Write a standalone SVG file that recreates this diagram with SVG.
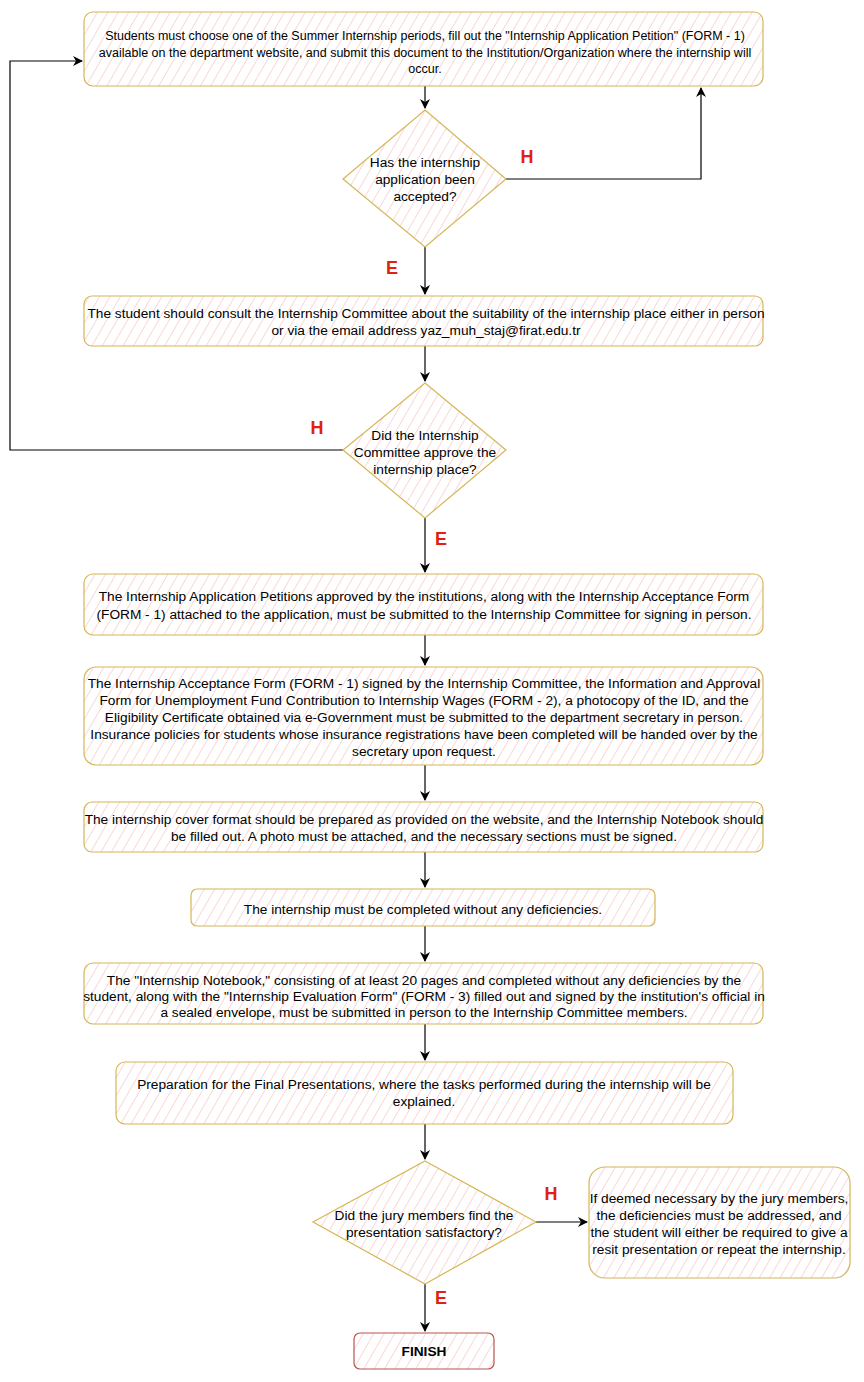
<svg xmlns="http://www.w3.org/2000/svg" width="864" height="1382" viewBox="0 0 864 1382">
<style>
.box{fill:url(#hatch);stroke:#d6b656;stroke-width:1.2}
.fin{fill:url(#hatch);stroke:#b85450;stroke-width:1.2}
.t{font-family:"Liberation Sans",Arial,sans-serif;font-size:13.7px;fill:#000;text-anchor:middle}
.t12{font-size:12.5px}
.b{font-weight:bold}
.lbl{font-family:"Liberation Sans",Arial,sans-serif;font-size:18px;font-weight:bold;fill:#e0210f;text-anchor:middle}
.c{fill:none;stroke:#000;stroke-width:1.2}
</style>
<defs>
<pattern id="hatch" patternUnits="userSpaceOnUse" width="9" height="9" patternTransform="rotate(30)">
<rect width="9" height="9" fill="#ffffff"/>
<line x1="0" y1="0" x2="0" y2="9" stroke="#f2a9a7" stroke-width="0.9"/>
</pattern>
<marker id="arr" viewBox="0 0 10 10" refX="9" refY="5" markerWidth="10" markerHeight="10" markerUnits="userSpaceOnUse" orient="auto">
<path d="M0,0 L10,5 L0,10 L3,5 Z" fill="#000"/>
</marker>
</defs>
<rect width="864" height="1382" fill="#ffffff"/>

<g id="connectors">
<path class="c" d="M425,86 V108" marker-end="url(#arr)"/>
<path class="c" d="M506,179 H701 V88" marker-end="url(#arr)"/>
<path class="c" d="M425,247 V294" marker-end="url(#arr)"/>
<path class="c" d="M425,346 V381" marker-end="url(#arr)"/>
<path class="c" d="M343,450 H10 V61 H82" marker-end="url(#arr)"/>
<path class="c" d="M425,518 V572" marker-end="url(#arr)"/>
<path class="c" d="M425,635 V665" marker-end="url(#arr)"/>
<path class="c" d="M425,765 V800" marker-end="url(#arr)"/>
<path class="c" d="M425,852 V887" marker-end="url(#arr)"/>
<path class="c" d="M425,926 V961" marker-end="url(#arr)"/>
<path class="c" d="M425,1024 V1060" marker-end="url(#arr)"/>
<path class="c" d="M425,1124 V1159" marker-end="url(#arr)"/>
<path class="c" d="M536,1222 H587" marker-end="url(#arr)"/>
<path class="c" d="M425,1284 V1331" marker-end="url(#arr)"/>
<text class="lbl" x="527" y="163">H</text>
<text class="lbl" x="392" y="274">E</text>
<text class="lbl" x="317" y="434">H</text>
<text class="lbl" x="441" y="545">E</text>
<text class="lbl" x="551" y="1200">H</text>
<text class="lbl" x="441" y="1304">E</text>
</g>

<g id="n1">
<rect class="box" x="84" y="12" width="679" height="74" rx="9"/>
<text class="t t12" x="425" y="40">Students must choose one of the Summer Internship periods, fill out the "Internship Application Petition" (FORM - 1)</text>
<text class="t t12" x="425" y="57">available on the department website, and submit this document to the Institution/Organization where the internship will</text>
<text class="t t12" x="425" y="73">occur.</text>
</g>

<g id="d1">
<polygon class="box" points="425,110 506,179 425,247 343,179"/>
<text class="t" x="425" y="167">Has the internship</text>
<text class="t" x="425" y="184">application been</text>
<text class="t" x="425" y="201">accepted?</text>
</g>

<g id="n2">
<rect class="box" x="84" y="296" width="679" height="50" rx="8"/>
<text class="t" x="426" y="318">The student should consult the Internship Committee about the suitability of the internship place either in person</text>
<text class="t" x="426" y="335">or via the email address yaz_muh_staj@firat.edu.tr</text>
</g>

<g id="d2">
<polygon class="box" points="425,383 506,450 425,518 343,450"/>
<text class="t" x="425" y="440">Did the Internship</text>
<text class="t" x="425" y="457">Committee approve the</text>
<text class="t" x="425" y="474">internship place?</text>
</g>

<g id="n3">
<rect class="box" x="84" y="574" width="679" height="61" rx="9"/>
<text class="t" x="424" y="601">The Internship Application Petitions approved by the institutions, along with the Internship Acceptance Form</text>
<text class="t" x="424" y="619">(FORM - 1) attached to the application, must be submitted to the Internship Committee for signing in person.</text>
</g>

<g id="n4">
<rect class="box" x="84" y="667" width="679" height="98" rx="12"/>
<text class="t" x="424" y="688">The Internship Acceptance Form (FORM - 1) signed by the Internship Committee, the Information and Approval</text>
<text class="t" x="424" y="705">Form for Unemployment Fund Contribution to Internship Wages (FORM - 2), a photocopy of the ID, and the</text>
<text class="t" x="424" y="722">Eligibility Certificate obtained via e-Government must be submitted to the department secretary in person.</text>
<text class="t" x="424" y="739">Insurance policies for students whose insurance registrations have been completed will be handed over by the</text>
<text class="t" x="424" y="756">secretary upon request.</text>
</g>

<g id="n5">
<rect class="box" x="84" y="802" width="679" height="50" rx="8"/>
<text class="t" x="424" y="824">The internship cover format should be prepared as provided on the website, and the Internship Notebook should</text>
<text class="t" x="424" y="841">be filled out. A photo must be attached, and the necessary sections must be signed.</text>
</g>

<g id="n6">
<rect class="box" x="191" y="889" width="464" height="37" rx="6"/>
<text class="t" x="423" y="914">The internship must be completed without any deficiencies.</text>
</g>

<g id="n7">
<rect class="box" x="84" y="963" width="679" height="61" rx="9"/>
<text class="t" x="424" y="985">The "Internship Notebook," consisting of at least 20 pages and completed without any deficiencies by the</text>
<text class="t" x="424" y="1001">student, along with the "Internship Evaluation Form" (FORM - 3) filled out and signed by the institution's official in</text>
<text class="t" x="424" y="1017">a sealed envelope, must be submitted in person to the Internship Committee members.</text>
</g>

<g id="n8">
<rect class="box" x="116" y="1062" width="617" height="62" rx="9"/>
<text class="t" x="424" y="1089">Preparation for the Final Presentations, where the tasks performed during the internship will be</text>
<text class="t" x="424" y="1106">explained.</text>
</g>

<g id="d3">
<polygon class="box" points="425,1161 536,1222 425,1284 313,1222"/>
<text class="t" x="424" y="1220">Did the jury members find the</text>
<text class="t" x="424" y="1237">presentation satisfactory?</text>
</g>

<g id="n9">
<rect class="box" x="589" y="1167" width="261" height="111" rx="16"/>
<text class="t" x="719" y="1203">If deemed necessary by the jury members,</text>
<text class="t" x="719" y="1220">the deficiencies must be addressed, and</text>
<text class="t" x="719" y="1237">the student will either be required to give a</text>
<text class="t" x="719" y="1254">resit presentation or repeat the internship.</text>
</g>

<g id="finish">
<rect class="fin" x="354" y="1333" width="140" height="36" rx="6"/>
<text class="t b" x="424" y="1356">FINISH</text>
</g>
</svg>
